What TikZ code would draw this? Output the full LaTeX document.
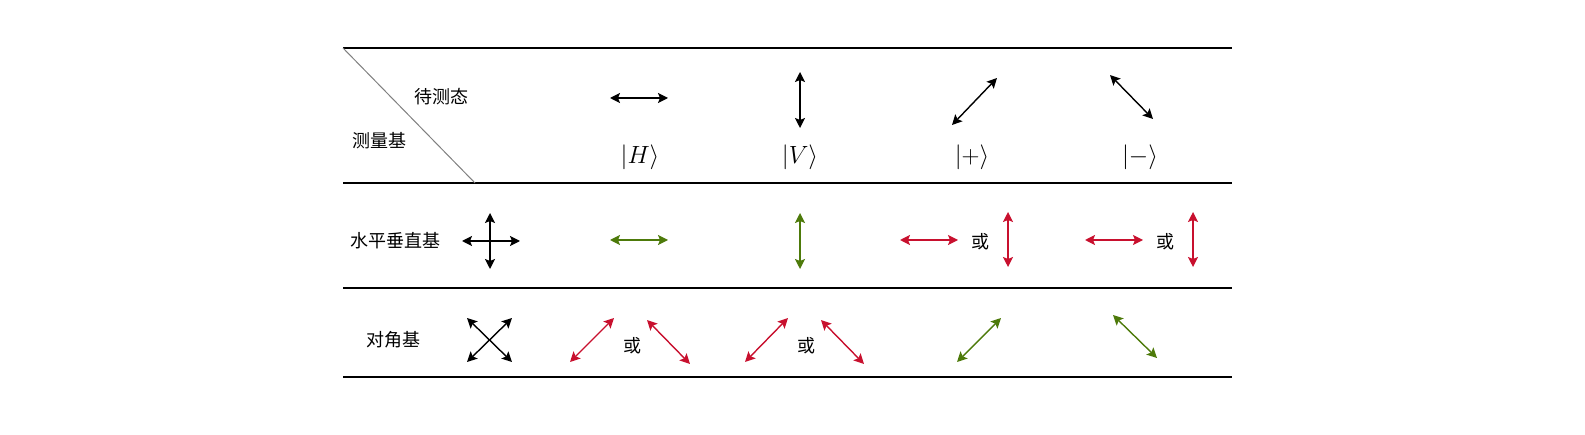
\documentclass[tikz,border=0pt]{standalone}
\usepackage{fontspec}
\newfontfamily\cjk{Noto Sans CJK SC}
\usetikzlibrary{arrows.meta}
\definecolor{rd}{HTML}{C8102E}
\definecolor{gn}{HTML}{4D7A0A}
\tikzset{ar/.style={{Stealth[length=10pt,width=10pt,inset=2pt]}-{Stealth[length=10pt,width=10pt,inset=2pt]},line width=1.4pt},
 rl/.style={line width=1.4pt},
 lab/.style={font=\cjk\fontsize{18}{18}\selectfont,inner sep=0},
 ket/.style={font=\fontsize{25}{25}\selectfont,inner sep=0}}
\begin{document}
\begin{tikzpicture}[x=1pt,y=-1pt]
\useasboundingbox (0,0) rectangle (1585,435);
\foreach \yy in {48,183,288,377} \draw[rl] (343,\yy) -- (1232,\yy);
\draw[gray,line width=1pt] (343,48) -- (475,183);
\node[lab] (t1) at (441,97) {待测态};
\node[lab] (t2) at (379,141) {测量基};
\node[lab] (t3) at (395,241) {水平垂直基};
\node[lab] (t4) at (393,340) {对角基};
% row 1
\draw[ar] (610,98) -- (668,98);
\draw[ar] (800,72) -- (800,128);
\draw[ar] (952,125) -- (997,78);
\draw[ar] (1110,75) -- (1153,119);
\node[ket] (k1) at (640,157) {$|H\rangle$};
\node[ket] (k2) at (800,157) {$|V\rangle$};
\node[ket] (k3) at (972,157) {$|{+}\rangle$};
\node[ket] (k4) at (1140,157) {$|{-}\rangle$};
% row 2
\draw[ar] (462,241) -- (520,241);
\draw[ar] (490,213) -- (490,269);
\draw[ar,gn] (610,240) -- (668,240);
\draw[ar,gn] (800,213) -- (800,269);
\draw[ar,rd] (900,240) -- (958,240);
\node[lab] (o1) at (980,242) {或};
\draw[ar,rd] (1008,212) -- (1008,267);
\draw[ar,rd] (1085,240) -- (1143,240);
\node[lab] (o2) at (1165,242) {或};
\draw[ar,rd] (1193,212) -- (1193,267);
% row 3
\draw[ar] (467,362) -- (512,318);
\draw[ar] (467,318) -- (512,362);
\draw[ar,rd] (570,362) -- (614,318);
\node[lab] (o3) at (632,346) {或};
\draw[ar,rd] (647,320) -- (690,364);
\draw[ar,rd] (745,362) -- (788,318);
\node[lab] (o4) at (806,346) {或};
\draw[ar,rd] (821,320) -- (864,364);
\draw[ar,gn] (957,362) -- (1001,318);
\draw[ar,gn] (1113,315) -- (1157,358);
\end{tikzpicture}
\end{document}
